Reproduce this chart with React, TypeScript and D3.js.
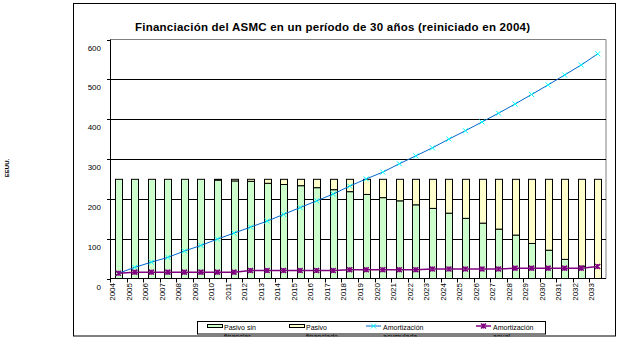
import React, { useEffect, useRef } from "react";
import * as d3 from "d3";

const years = [
  "2004", "2005", "2006", "2007", "2008", "2009", "2010", "2011", "2012", "2013",
  "2014", "2015", "2016", "2017", "2018", "2019", "2020", "2021", "2022", "2023",
  "2024", "2025", "2026", "2027", "2028", "2029", "2030", "2031", "2032", "2033",
];
const pasivoSinFinanciar = [
  249, 249, 249, 249, 249, 249, 247, 245, 244, 239,
  236, 233, 228, 223, 218, 211, 203, 195, 185, 176,
  164, 151, 139, 124, 109, 88, 71, 48, 31, 0,
];
const pasivoFinanciado = [
  0, 0, 0, 0, 0, 0, 2, 4, 5, 10,
  13, 16, 21, 26, 31, 38, 46, 54, 64, 73,
  85, 98, 110, 125, 140, 161, 178, 201, 218, 249,
];
const amortizacionAcumulada = [
  13, 28, 41, 53, 69, 83, 99, 114, 129, 144,
  161, 178, 195, 212, 232, 250, 267, 288, 308, 328,
  350, 371, 393, 415, 438, 462, 486, 511, 536, 564,
];
const amortizacionAnual = [
  13, 16, 16, 16, 16, 16, 16, 16, 20, 20,
  20, 20, 20, 20, 22, 22, 22, 22, 22, 24,
  24, 24, 24, 24, 26, 26, 26, 26, 26, 30,
];
const yTicks = [0, 100, 200, 300, 400, 500, 600];
const seriesNames = ["Pasivo sin", "Pasivo", "Amortización", "Amortización"];
const seriesNames2 = ["financiar", "financiado", "acumulada", "anual"];

const FONT = "'Liberation Sans', Arial, sans-serif";

const App = () => {
  const ref = useRef<SVGSVGElement>(null);

  useEffect(() => {
    const root = d3.select(ref.current);
    root.selectAll("*").remove();

    const left = 110;
    const right = 606;
    const top = 39.5;
    const bottom = 278.5;

    root.append("defs").append("clipPath").attr("id", "frameClip")
      .append("rect").attr("x", 0).attr("y", 0).attr("width", 644).attr("height", 336.5);

    // outer chart frame background
    root.append("rect")
      .attr("x", 73.5).attr("y", 3.5)
      .attr("width", 542).attr("height", 332.5)
      .attr("fill", "white");

    root.append("text")
      .attr("x", 332.5).attr("y", 31)
      .attr("text-anchor", "middle")
      .style("font-family", FONT).style("font-size", "11.5px").style("font-weight", "bold")
      .attr("textLength", 395)
      .text("Financiación del ASMC en un período de 30 años (reiniciado en 2004)");

    root.append("text")
      .attr("transform", "translate(9,168) rotate(-90)")
      .attr("text-anchor", "middle")
      .style("font-family", FONT).style("font-size", "6px").style("font-weight", "bold")
      .text("EEUU.");

    const x = d3.scaleBand<string>().domain(years).range([left, right])
      .paddingInner(0.58).paddingOuter(0.29);
    const y = d3.scaleLinear().domain([0, 600]).range([bottom, top]);
    const cx = (i: number) => x(years[i])! + x.bandwidth() / 2;

    // plot area border (gray top / right)
    root.append("path")
      .attr("d", `M${left},${top}H${right}V${bottom}`)
      .attr("fill", "none").attr("stroke", "#808080");

    yTicks.filter((t) => t > 0 && t < 600).forEach((t) => {
      root.append("line")
        .attr("x1", left).attr("x2", right)
        .attr("y1", Math.round(y(t)) + 0.5).attr("y2", Math.round(y(t)) + 0.5)
        .attr("stroke", "black");
    });

    yTicks.forEach((t) => {
      root.append("text")
        .attr("x", 101).attr("y", y(t) + 11)
        .attr("text-anchor", "end")
        .style("font-family", FONT).style("font-size", "8px")
        .text(t);
      root.append("line")
        .attr("x1", left - 3).attr("x2", left)
        .attr("y1", Math.round(y(t)) + 0.5).attr("y2", Math.round(y(t)) + 0.5)
        .attr("stroke", "black");
    });

    // stacked bars
    years.forEach((yr, i) => {
      const g = pasivoSinFinanciar[i];
      const f = pasivoFinanciado[i];
      const bx = Math.round(x(yr)!) + 0.5;
      const bw = Math.round(x.bandwidth());
      if (g > 0) {
        root.append("rect")
          .attr("x", bx).attr("y", y(g))
          .attr("width", bw).attr("height", y(0) - y(g))
          .attr("fill", "#CCFFCC").attr("stroke", "black");
      }
      if (f > 0) {
        root.append("rect")
          .attr("x", bx).attr("y", y(g + f))
          .attr("width", bw).attr("height", y(g) - y(g + f))
          .attr("fill", "#FFFFCC").attr("stroke", "black");
      }
    });

    // axes
    root.append("line")
      .attr("x1", left + 0.5).attr("x2", left + 0.5)
      .attr("y1", top).attr("y2", bottom)
      .attr("stroke", "black");
    root.append("line")
      .attr("x1", left).attr("x2", right)
      .attr("y1", bottom).attr("y2", bottom)
      .attr("stroke", "black");

    years.forEach((yr, i) => {
      const tx = Math.round(left + x.step() * i) + 0.5;
      root.append("line")
        .attr("x1", tx).attr("x2", tx)
        .attr("y1", bottom).attr("y2", bottom + 4)
        .attr("stroke", "black");
      root.append("text")
        .attr("transform", `translate(${cx(i) - 3.3},${bottom + 4.5}) rotate(-90)`)
        .attr("text-anchor", "end")
        .style("font-family", FONT).style("font-size", "8px")
        .text(yr);
    });

    // lines
    const line = d3.line<number>().x((d, i) => cx(i)).y((d) => y(d));

    root.append("path")
      .datum(amortizacionAcumulada)
      .attr("d", line)
      .attr("fill", "none").attr("stroke", "#0066CC").attr("stroke-width", 1);

    root.append("path")
      .datum(amortizacionAnual)
      .attr("d", line)
      .attr("fill", "none").attr("stroke", "#800080").attr("stroke-width", 1.5);

    const crossMarker = (px: number, py: number, color: string, star: boolean) => {
      const s = 2.5;
      root.append("path")
        .attr("d", `M${px - s},${py - s}L${px + s},${py + s}M${px - s},${py + s}L${px + s},${py - s}` +
          (star ? `M${px},${py - s}L${px},${py + s}` : ""))
        .attr("stroke", color).attr("stroke-width", star ? 1.5 : 1).attr("fill", "none");
    };

    amortizacionAcumulada.forEach((d, i) => crossMarker(cx(i), y(d), "#00FFFF", false));
    amortizacionAnual.forEach((d, i) => crossMarker(cx(i), y(d), "#800080", true));

    // legend
    root.append("rect")
      .attr("x", 197.5).attr("y", 321.5)
      .attr("width", 348).attr("height", 12.5)
      .attr("fill", "white").attr("stroke", "black");

    const legendX = [207, 289, 366, 476];
    legendX.forEach((lx, i) => {
      if (i < 2) {
        root.append("rect")
          .attr("x", lx + 0.5).attr("y", 324.5)
          .attr("width", 15).attr("height", 3)
          .attr("fill", i === 0 ? "#CCFFCC" : "#FFFFCC").attr("stroke", "black");
      } else {
        const color = i === 2 ? "#0066CC" : "#800080";
        root.append("line")
          .attr("x1", lx).attr("x2", lx + 15)
          .attr("y1", 326).attr("y2", 326)
          .attr("stroke", color).attr("stroke-width", i === 2 ? 1 : 1.5);
        crossMarker(lx + 7.5, 326, i === 2 ? "#00FFFF" : "#800080", i === 3);
      }
      root.append("text")
        .attr("x", lx + 17).attr("y", 330)
        .style("font-family", FONT).style("font-size", "7px")
        .text(seriesNames[i]);
      root.append("text")
        .attr("x", lx + 17).attr("y", 338.5)
        .attr("clip-path", "url(#frameClip)")
        .style("font-family", FONT).style("font-size", "7px")
        .text(seriesNames2[i]);
    });

    // outer frame border on top
    root.append("rect")
      .attr("x", 73.5).attr("y", 3.5)
      .attr("width", 542).attr("height", 332.5)
      .attr("fill", "none").attr("stroke", "black");
  }, []);

  return (
    <svg
      ref={ref}
      width={644}
      height={362}
      style={{ position: "absolute", left: 0, top: 0, background: "white" }}
    />
  );
};

export default App;
